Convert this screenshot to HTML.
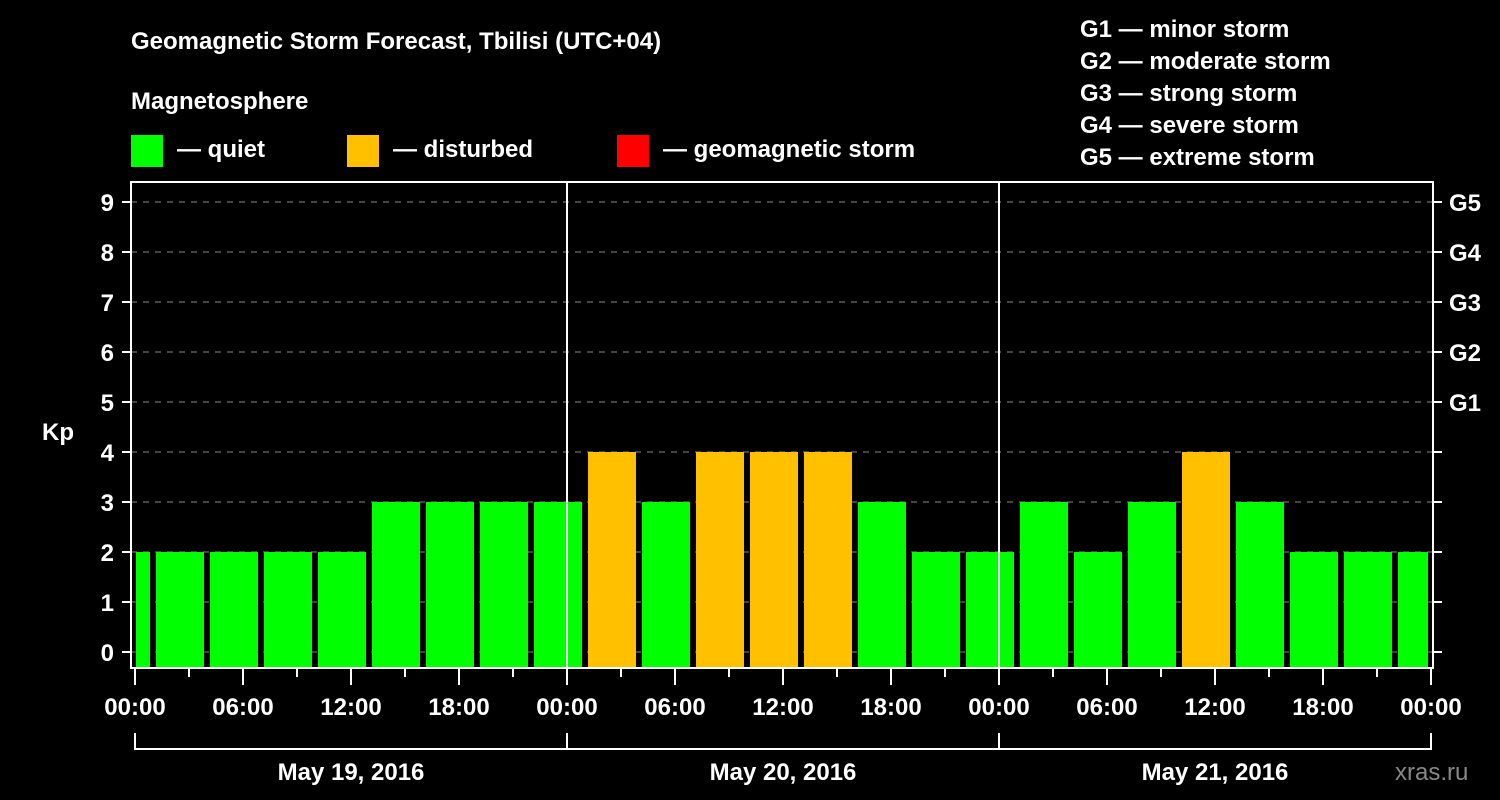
<!DOCTYPE html>
<html><head><meta charset="utf-8"><style>
body{margin:0;background:#000;width:1500px;height:800px;overflow:hidden}
svg{display:block;font-family:"Liberation Sans",Arial,sans-serif;font-weight:bold}
</style></head><body>
<svg id="chart" width="1500" height="800" xmlns="http://www.w3.org/2000/svg">
<rect width="1500" height="800" fill="#000"/>
<text x="131" y="49" font-size="24" fill="#fff">Geomagnetic Storm Forecast, Tbilisi (UTC+04)</text>
<text x="131" y="109" font-size="24" fill="#fff">Magnetosphere</text>
<g><rect x="131" y="135" width="32" height="32" fill="#00ff00"/><text x="177" y="157" font-size="24" fill="#fff">— quiet</text></g>
<g><rect x="347" y="135" width="32" height="32" fill="#ffc000"/><text x="393" y="157" font-size="24" fill="#fff">— disturbed</text></g>
<g><rect x="617" y="135" width="32" height="32" fill="#ff0000"/><text x="663" y="157" font-size="24" fill="#fff">— geomagnetic storm</text></g>
<g font-size="24" fill="#fff">
<text x="1080" y="37">G1 — minor storm</text>
<text x="1080" y="69">G2 — moderate storm</text>
<text x="1080" y="101">G3 — strong storm</text>
<text x="1080" y="133">G4 — severe storm</text>
<text x="1080" y="165">G5 — extreme storm</text>
</g>
<text x="42" y="440" font-size="24" fill="#fff">Kp</text>
<text x="1395" y="780" font-size="24" fill="#888" font-weight="normal">xras.ru</text>
<g id="grid"></g><g id="bars"></g><g id="axes"></g>
</svg>
<script>
const kpValues=[2,2,2,2,2,3,3,3,3,4,3,4,4,4,3,2,2,3,2,3,4,3,2,2,2];
const barStartHours=-2; // first interval starts at local -2h (UTC 22:00 prev day... shifted)
const yTicks=[0,1,2,3,4,5,6,7,8,9];
const gLabels=["G1","G2","G3","G4","G5"];
const xTickLabels=["00:00","06:00","12:00","18:00","00:00","06:00","12:00","18:00","00:00","06:00","12:00","18:00","00:00"];
const dayLabels=["May 19, 2016","May 20, 2016","May 21, 2016"];
const NS="http://www.w3.org/2000/svg";
const X0=135,PXH=18,Y0=652,PXU=50,TOP=182,BOT=668,LEFT=131,RIGHT=1433;
const xs=h=>X0+h*PXH, ys=v=>Y0-v*PXU;
function mk(p,t,a){const e=document.createElementNS(NS,t);for(const k in a)e.setAttribute(k,a[k]);p.appendChild(e);return e;}
const grid=document.getElementById('grid'),bars=document.getElementById('bars'),axes=document.getElementById('axes');
yTicks.forEach(v=>{const l=mk(grid,'line',{x1:LEFT,x2:RIGHT,y1:ys(v),y2:ys(v),stroke:'#888','stroke-dasharray':'6,6','stroke-width':1});

});
kpValues.forEach((v,i)=>{const h0=barStartHours+i*3;let x1=Math.max(xs(h0)+3,X0+1),x2=Math.min(xs(h0+3)-3,xs(72)-3);
const c=v>=5?'#ff0000':(v>=4?'#ffc000':'#00ff00');
const r=mk(bars,'rect',{x:x1,y:ys(v),width:x2-x1,height:BOT-ys(v),fill:c});

});
// frame
const f=mk(axes,'rect',{x:LEFT,y:TOP,width:RIGHT-LEFT,height:BOT-TOP,fill:'none',stroke:'#fff','stroke-width':2});


[24,48].forEach(h=>{const l=mk(axes,'line',{x1:xs(h),x2:xs(h),y1:TOP,y2:BOT,stroke:'#fff','stroke-width':2});

});
yTicks.forEach(v=>{mk(axes,'line',{x1:122,x2:LEFT,y1:ys(v),y2:ys(v),stroke:'#fff','stroke-width':2});
mk(axes,'line',{x1:RIGHT,x2:1442,y1:ys(v),y2:ys(v),stroke:'#fff','stroke-width':2});
const t=mk(axes,'text',{x:114,y:ys(v)+9,'text-anchor':'end','font-size':24,fill:'#fff'});t.textContent=v;

});
gLabels.forEach((g,i)=>{const t=mk(axes,'text',{x:1449,y:ys(5+i)+9,'font-size':24,fill:'#fff'});t.textContent=g;

});
for(let h=0;h<=72;h+=3){const major=h%6==0;mk(axes,'line',{x1:xs(h),x2:xs(h),y1:BOT,y2:major?685:677,stroke:'#fff','stroke-width':2});}
xTickLabels.forEach((s,i)=>{const t=mk(axes,'text',{x:xs(i*6),y:715,'text-anchor':'middle','font-size':24,fill:'#fff'});t.textContent=s;

});
mk(axes,'line',{x1:xs(0),x2:xs(72),y1:749,y2:749,stroke:'#fff','stroke-width':2});
for(let d=0;d<=3;d++)mk(axes,'line',{x1:xs(d*24),x2:xs(d*24),y1:733,y2:750,stroke:'#fff','stroke-width':2});
dayLabels.forEach((s,i)=>{const t=mk(axes,'text',{x:xs(i*24+12),y:780,'text-anchor':'middle','font-size':24,fill:'#fff'});t.textContent=s;

});
</script>
</body></html>
